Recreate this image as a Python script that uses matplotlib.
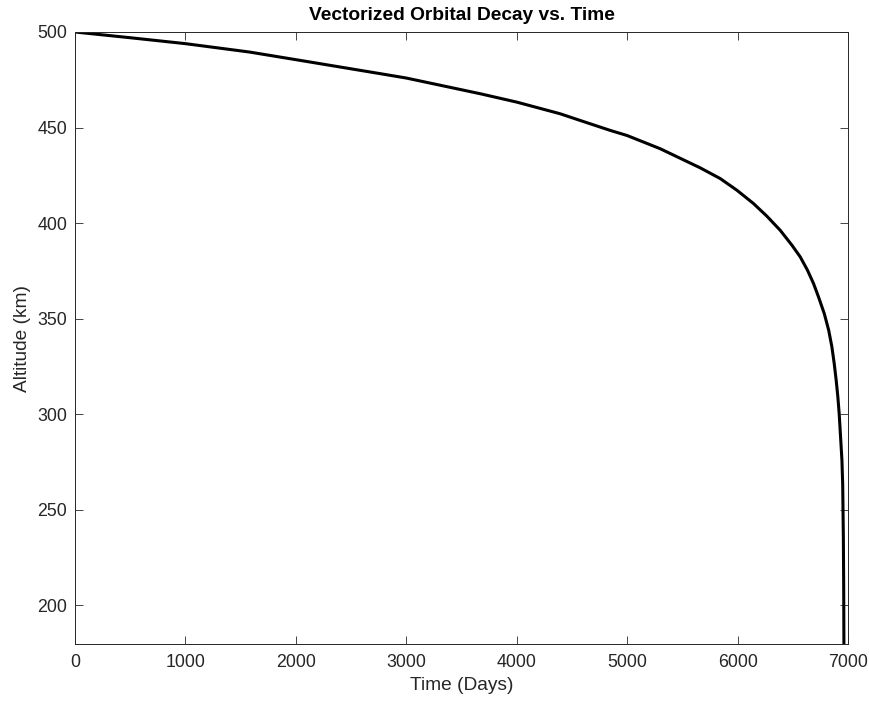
import matplotlib.pyplot as plt

plt.rcParams['font.family'] = ['Liberation Sans', 'DejaVu Sans']

# values
time_days = [0, 500, 1000, 1581, 2033, 2763, 3000, 3668, 4000, 4393, 4574,
             4846, 5000, 5299, 5661, 5842, 5993, 6144, 6265, 6386, 6492,
             6567, 6633, 6688, 6733, 6785, 6825, 6854, 6875, 6893, 6908,
             6920, 6929, 6945, 6952, 6958, 6961, 6963]
altitude_km = [500, 497.0, 493.9, 489.5, 485.2, 478.2, 475.9, 467.7, 463.3,
               457.2, 453.7, 448.5, 445.8, 438.9, 428.9, 423.3, 417.2, 410.2,
               403.6, 396.2, 388.4, 382.3, 375.3, 368.3, 361.3, 352.6, 343.9,
               335.2, 326.5, 317.7, 309.0, 300.3, 291.6, 275.9, 263.0, 235.0,
               210.0, 179.6]

x_ticks = [0, 1000, 2000, 3000, 4000, 5000, 6000, 7000]
y_ticks = [200, 250, 300, 350, 400, 450, 500]

ax_col = (0.15, 0.15, 0.15)

fig = plt.figure(figsize=(8.69, 7.02), dpi=100)
ax = fig.add_axes([75 / 869, 1 - 644 / 702, 773 / 869, 612 / 702])

ax.plot(time_days, altitude_km, color='black', lw=2.2,
        solid_joinstyle='round', solid_capstyle='butt')

ax.set_xlim(0, 7000)
ax.set_ylim(179.6, 500)
ax.set_xticks(x_ticks)
ax.set_yticks(y_ticks)

ax.tick_params(direction='in', length=5.5, width=0.6, colors=ax_col,
               labelsize=12.8, top=True, right=True)
ax.tick_params(axis='x', pad=7.5)
ax.tick_params(axis='y', pad=5.5)
for s in ax.spines.values():
    s.set_color(ax_col)
    s.set_linewidth(0.7)

ax.set_xlabel('Time (Days)', fontsize=13.8, color=ax_col, labelpad=4)
ax.set_ylabel('Altitude (km)', fontsize=13.8, color=ax_col, labelpad=5)
ax.set_title('Vectorized Orbital Decay vs. Time', fontsize=13.8,
             fontweight='bold', pad=9)

fig.savefig('out.png', dpi=100)
